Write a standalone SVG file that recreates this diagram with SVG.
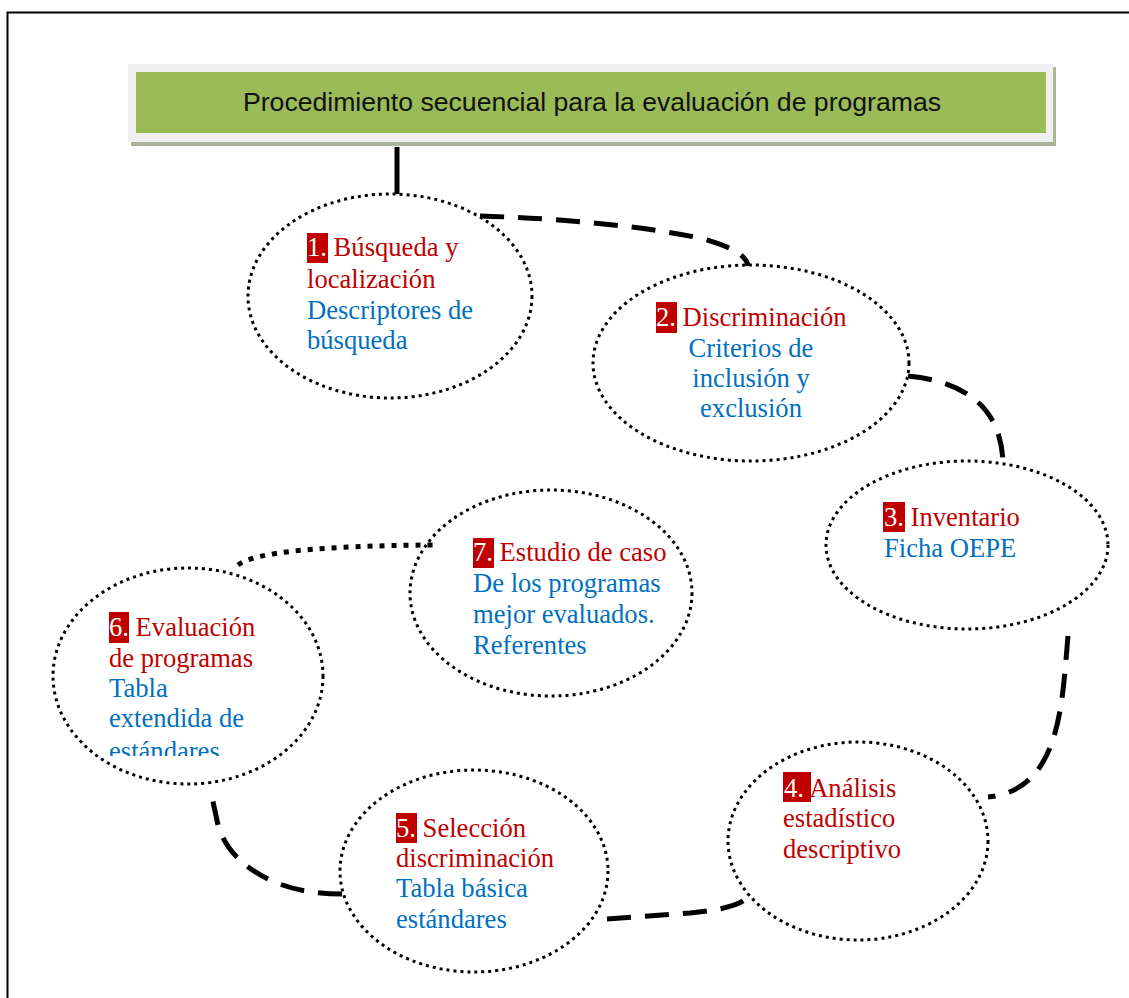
<svg xmlns="http://www.w3.org/2000/svg" width="1129" height="998" viewBox="0 0 1129 998">
<style>
.node{fill:none;stroke:#000;stroke-width:3;stroke-dasharray:3 4}
.dash{fill:none;stroke:#000;stroke-width:5;stroke-dasharray:24 14}
.dot{fill:none;stroke:#000;stroke-width:5;stroke-dasharray:5 7}
.t{font-family:"Liberation Serif","Times New Roman",serif;font-size:26.6px}
.r{fill:#C00000}
.b{fill:#0070C0}
.w{fill:#FFFFFF}
.nb{fill:#C00000}
</style>
<defs>
<clipPath id="clip6"><rect x="100" y="600" width="220" height="156"/></clipPath>
</defs>
<rect x="7.5" y="12.5" width="1140" height="1000" fill="#fff" stroke="#000" stroke-width="2"/>
<g id="title">
<rect x="131" y="67" width="925" height="79" fill="#a9b596"/>
<rect x="128" y="64" width="925" height="78" fill="#f0f0f0"/>
<rect x="136" y="72" width="910" height="61" fill="#9bbb59"/>
<text x="243" y="111" font-family="'Liberation Sans',Arial,sans-serif" font-size="25" fill="#111" textLength="698" lengthAdjust="spacingAndGlyphs">Procedimiento secuencial para la evaluación de programas</text>
</g>
<g id="connectors">
<line x1="397" y1="147" x2="397" y2="194" stroke="#000" stroke-width="5"/>
<path class="dash" d="M480,216 Q610,220 700,238 Q746,250 748,266"/>
<path class="dash" d="M908,376 Q1000,385 1003,462"/>
<path class="dash" d="M1068,636 C1062,700 1062,790 988,797"/>
<path class="dash" d="M607,919 L690,913 Q742,908 748,896"/>
<path class="dash" d="M342,894 Q300,894 270,880 Q228,860 218,825 L212,797"/>
<path class="dot" d="M238,565 Q262,546 435,545"/>
</g>
<g id="n1">
<ellipse class="node" cx="390" cy="296" rx="142" ry="102"/>
<rect class="nb" x="307" y="233" width="21" height="30"/>
<text class="t" x="307" y="256"><tspan class="w">1.</tspan><tspan class="r"> Búsqueda y</tspan></text>
<text class="t r" x="307" y="288">localización</text>
<text class="t b" x="307" y="319">Descriptores de</text>
<text class="t b" x="307" y="349">búsqueda</text>
</g>
<g id="n2">
<ellipse class="node" cx="751" cy="363" rx="158" ry="98"/>
<rect class="nb" x="656" y="302" width="21" height="31"/>
<text class="t" x="656" y="326"><tspan class="w">2.</tspan><tspan class="r"> Discriminación</tspan></text>
<text class="t b" x="751" y="357" text-anchor="middle">Criterios de</text>
<text class="t b" x="751" y="387" text-anchor="middle">inclusión y</text>
<text class="t b" x="751" y="417" text-anchor="middle">exclusión</text>
</g>
<g id="n3">
<ellipse class="node" cx="967" cy="545" rx="141" ry="84"/>
<rect class="nb" x="883" y="502" width="22" height="30"/>
<text class="t" x="884" y="526"><tspan class="w">3.</tspan><tspan class="r"> Inventario</tspan></text>
<text class="t b" x="884" y="557">Ficha OEPE</text>
</g>
<g id="n4">
<ellipse class="node" cx="858" cy="841" rx="130" ry="99"/>
<rect class="nb" x="783" y="772" width="28" height="30"/>
<text class="t" x="784" y="797"><tspan class="w">4.</tspan><tspan class="r"> Análisis</tspan></text>
<text class="t r" x="783" y="827">estadístico</text>
<text class="t r" x="783" y="858">descriptivo</text>
</g>
<g id="n5">
<ellipse class="node" cx="474" cy="871" rx="134" ry="101"/>
<rect class="nb" x="396" y="813" width="21" height="30"/>
<text class="t" x="396" y="837"><tspan class="w">5.</tspan><tspan class="r"> Selección</tspan></text>
<text class="t r" x="396" y="867">discriminación</text>
<text class="t b" x="396" y="897">Tabla básica</text>
<text class="t b" x="396" y="928">estándares</text>
</g>
<g id="n6">
<ellipse class="node" cx="188" cy="676" rx="135" ry="108"/>
<rect class="nb" x="109" y="612" width="20" height="31"/>
<text class="t" x="109" y="636"><tspan class="w">6.</tspan><tspan class="r"> Evaluación</tspan></text>
<text class="t r" x="109" y="667">de programas</text>
<text class="t b" x="109" y="697">Tabla</text>
<text class="t b" x="109" y="727">extendida de</text>
<text class="t b" x="109" y="760" clip-path="url(#clip6)">estándares</text>
</g>
<g id="n7">
<ellipse class="node" cx="551" cy="593" rx="141" ry="103"/>
<rect class="nb" x="473" y="538" width="21" height="30"/>
<text class="t" x="473" y="561"><tspan class="w">7.</tspan><tspan class="r"> Estudio de caso</tspan></text>
<text class="t b" x="473" y="592">De los programas</text>
<text class="t b" x="473" y="623">mejor evaluados.</text>
<text class="t b" x="473" y="654">Referentes</text>
</g>
</svg>
